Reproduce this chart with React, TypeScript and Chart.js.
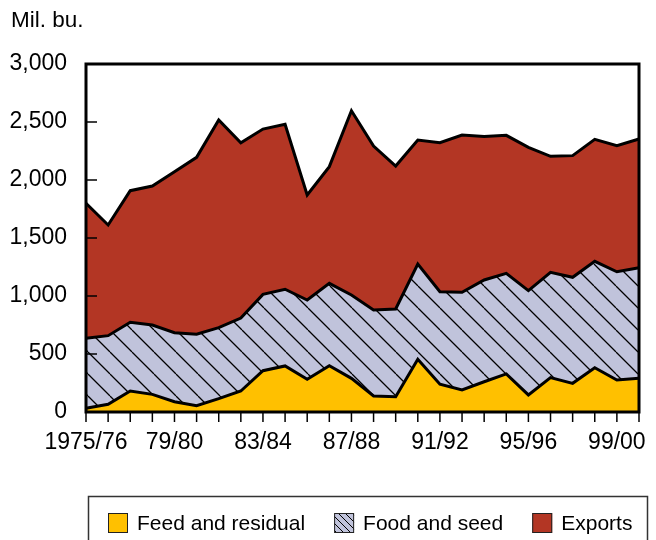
import React, { useEffect, useRef } from "react";
import { Chart, registerables } from "chart.js";

Chart.register(...registerables);

const seasons = [
  "1975/76", "76/77", "77/78", "78/79", "79/80", "80/81", "81/82", "82/83", "83/84",
  "84/85", "85/86", "86/87", "87/88", "88/89", "89/90", "90/91", "91/92", "92/93",
  "93/94", "94/95", "95/96", "96/97", "97/98", "98/99", "99/00", "2000/01",
];
const xTickLabels = ["1975/76", "79/80", "83/84", "87/88", "91/92", "95/96", "99/00"];

const feedAndResidual = [32, 66, 181, 152, 89, 55, 115, 181, 356, 397, 282, 399, 290, 138, 132, 454, 239, 190, 261, 328, 147, 296, 247, 382, 276, 290];
const foodAndSeed = [603, 592, 592, 598, 595, 615, 612, 629, 658, 661, 683, 710, 719, 741, 756, 822, 798, 842, 877, 867, 899, 908, 914, 917, 933, 954];
const exportsVals = [1165, 954, 1135, 1198, 1387, 1525, 1790, 1511, 1425, 1422, 906, 1006, 1588, 1414, 1232, 1069, 1284, 1356, 1238, 1190, 1236, 1000, 1049, 1052, 1087, 1109];

const seriesNames = ["Feed and residual", "Food and seed", "Exports"];
const yAxisTitle = "Mil. bu.";

const FONT = '"Liberation Sans", Arial, Helvetica, sans-serif';
const YELLOW = "#ffc000";
const LAVENDER = "#c0c3db";
const RED = "#b33624";

function makeHatch(size: number, lw: number): CanvasPattern {
  const c = document.createElement("canvas");
  c.width = size;
  c.height = size;
  const g = c.getContext("2d")!;
  g.fillStyle = LAVENDER;
  g.fillRect(0, 0, size, size);
  g.strokeStyle = "#000";
  g.lineWidth = lw;
  g.beginPath();
  for (const k of [-size, 0, size]) {
    g.moveTo(k, 0);
    g.lineTo(k + size, size);
  }
  g.stroke();
  return g.createPattern(c, "repeat")!;
}

export default function App() {
  const ref = useRef<HTMLCanvasElement | null>(null);

  useEffect(() => {
    const canvas = ref.current!;
    const hatch = makeHatch(22, 1.3);
    const iconHatch = makeHatch(7, 1);

    const framePlugin = {
      id: "frame",
      afterDatasetsDraw(chart: any) {
        const { ctx, chartArea: a, scales } = chart;
        ctx.save();
        ctx.strokeStyle = "#000";
        ctx.lineWidth = 1.5;
        const ys = scales.y;
        ys.ticks.forEach((t: any) => {
          const y = ys.getPixelForValue(t.value);
          ctx.beginPath();
          ctx.moveTo(a.left, y);
          ctx.lineTo(a.left + 11, y);
          ctx.stroke();
        });
        const xs = scales.x;
        xs.ticks.forEach((_t: any, i: number) => {
          const x = xs.getPixelForTick(i);
          ctx.beginPath();
          ctx.moveTo(x, a.bottom);
          ctx.lineTo(x, a.bottom + 10);
          ctx.stroke();
        });
        ctx.lineWidth = 3;
        ctx.strokeRect(a.left, a.top, a.right - a.left, a.bottom - a.top);
        ctx.restore();
      },
      afterDraw(chart: any) {
        const { ctx } = chart;
        ctx.save();
        ctx.fillStyle = "#000";
        ctx.font = `22.5px ${FONT}`;
        ctx.textBaseline = "middle";
        ctx.textAlign = "left";
        ctx.fillText(yAxisTitle, 11, 21);
        ctx.strokeStyle = "#333";
        ctx.lineWidth = 1.5;
        ctx.strokeRect(88.5, 496.5, 559, 60);
        const fills = [YELLOW, iconHatch, RED];
        ctx.font = `21px ${FONT}`;
        let x = 108;
        const yc = 523;
        seriesNames.forEach((name, i) => {
          ctx.fillStyle = fills[i] as any;
          ctx.fillRect(x, yc - 10, 20, 20);
          ctx.strokeStyle = "#222";
          ctx.lineWidth = 1;
          ctx.strokeRect(x + 0.5, yc - 9.5, 19, 19);
          ctx.fillStyle = "#000";
          ctx.fillText(name, x + 29, yc + 1);
          x += 29 + ctx.measureText(name).width + 29;
        });
        ctx.restore();
      },
    };

    const chart = new Chart(canvas, {
      type: "line",
      data: {
        labels: seasons,
        datasets: [
          {
            label: seriesNames[0],
            data: feedAndResidual,
            backgroundColor: YELLOW,
            borderColor: "#000",
            borderWidth: 3,
            fill: "origin",
            pointRadius: 0,
            tension: 0,
          },
          {
            label: seriesNames[1],
            data: foodAndSeed,
            backgroundColor: hatch as any,
            borderColor: "#000",
            borderWidth: 3,
            fill: "-1",
            pointRadius: 0,
            tension: 0,
          },
          {
            label: seriesNames[2],
            data: exportsVals,
            backgroundColor: RED,
            borderColor: "#000",
            borderWidth: 3,
            fill: "-1",
            pointRadius: 0,
            tension: 0,
          },
        ],
      },
      options: {
        responsive: false,
        animation: false,
        devicePixelRatio: 1,
        layout: { padding: { top: 64, right: 8, left: 0, bottom: 0 } },
        plugins: {
          legend: { display: false },
          tooltip: { enabled: false },
          title: { display: false },
        },
        elements: { line: { borderJoinStyle: "miter" } },
        scales: {
          x: {
            offset: false,
            grid: { display: false, drawTicks: false },
            border: { display: false },
            ticks: {
              autoSkip: false,
              maxRotation: 0,
              minRotation: 0,
              padding: 17,
              color: "#000",
              font: { family: FONT, size: 23 },
              callback: (_v: any, i: number) => (xTickLabels.includes(seasons[i]) ? seasons[i] : ""),
            },
            afterFit: (s: any) => {
              s.height = 128;
            },
          },
          y: {
            stacked: true,
            min: 0,
            max: 3000,
            grid: { display: false, drawTicks: false },
            border: { display: false },
            ticks: {
              stepSize: 500,
              padding: 19,
              color: "#000",
              font: { family: FONT, size: 23 },
              callback: (v: any) => Number(v).toLocaleString("en-US"),
            },
            afterFit: (s: any) => {
              s.width = 86;
            },
          },
        },
      },
      plugins: [framePlugin],
    });
    return () => chart.destroy();
  }, []);

  return (
    <div style={{ position: "absolute", left: 0, top: 0, width: 656, height: 540, background: "#fff" }}>
      <canvas ref={ref} width={656} height={540} style={{ display: "block" }} />
    </div>
  );
}
